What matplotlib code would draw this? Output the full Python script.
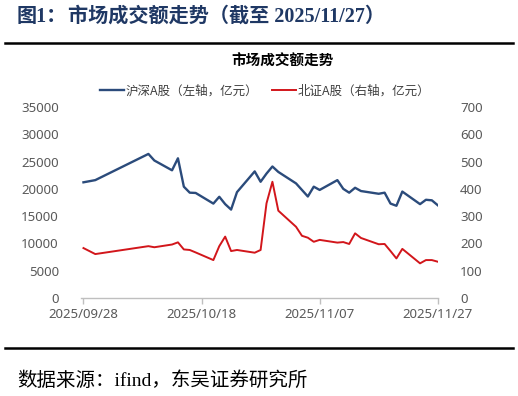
import matplotlib
matplotlib.use("Agg")
from matplotlib import pyplot as plt
import matplotlib.dates as mdates
import pandas as pd

# trading days shown in the chart
dates = ["2025-09-28", "2025-09-29", "2025-09-30", "2025-10-09", "2025-10-10",
         "2025-10-13", "2025-10-14", "2025-10-15", "2025-10-16", "2025-10-17",
         "2025-10-20", "2025-10-21", "2025-10-22", "2025-10-23", "2025-10-24",
         "2025-10-27", "2025-10-28", "2025-10-29", "2025-10-30", "2025-10-31",
         "2025-11-03", "2025-11-04", "2025-11-05", "2025-11-06", "2025-11-07",
         "2025-11-10", "2025-11-11", "2025-11-12", "2025-11-13", "2025-11-14",
         "2025-11-17", "2025-11-18", "2025-11-19", "2025-11-20", "2025-11-21",
         "2025-11-24", "2025-11-25", "2025-11-26", "2025-11-27"]

# 沪深A股 成交额（亿元，左轴）
hs_amount = [21200, 21400, 21600, 26400, 25200,
             23400, 25600, 20400, 19300, 19250,
             17300, 18550, 17200, 16200, 19400,
             23200, 21300, 22800, 24100, 23100,
             21000, 19800, 18600, 20400, 19800,
             21600, 20000, 19300, 20200, 19600,
             19100, 19300, 17300, 16900, 19500,
             17200, 18000, 17900, 17000]

# 北证A股 成交额（亿元，右轴）
bz_amount = [183, 172, 161, 190, 186,
             196, 204, 178, 176, 167,
             139, 190, 225, 172, 176,
             166, 176, 347, 426, 320,
             261, 228, 221, 206, 213,
             203, 205, 198, 237, 220,
             197, 198, 172, 145, 180,
             127, 139, 139, 133]

left_ticks = [0, 5000, 10000, 15000, 20000, 25000, 30000, 35000]
right_ticks = [0, 100, 200, 300, 400, 500, 600, 700]
x_ticks = ["2025-09-28", "2025-10-18", "2025-11-07", "2025-11-27"]

blue = "#2B4B7B"
red = "#D2161B"
grey_txt = "#595959"
navy = "#1F3864"

cjk = ["Noto Sans CJK SC", "DejaVu Sans"]
serif_cjk = ["Liberation Serif", "Noto Sans CJK SC"]
num_font = ["Noto Sans", "DejaVu Sans"]

d = pd.to_datetime(dates)

fig = plt.figure(figsize=(5.18, 3.96), dpi=100)
fig.patch.set_facecolor("white")

# header and footer
fig.text(17 / 518, 1 - 17 / 396, "图1：", family=serif_cjk, fontsize=14.5,
         fontweight="bold", color=navy, va="center", ha="left")
fig.text(68 / 518, 1 - 17 / 396, "市场成交额走势（截至 2025/11/27）", family=serif_cjk,
         fontsize=14.5, fontweight="bold", color=navy, va="center", ha="left")
fig.add_artist(plt.Line2D([5 / 518, 513 / 518], [1 - 43 / 396, 1 - 43 / 396],
                          color="black", lw=1.8, transform=fig.transFigure))
fig.add_artist(plt.Line2D([5 / 518, 513 / 518], [1 - 348 / 396, 1 - 348 / 396],
                          color="black", lw=1.8, transform=fig.transFigure))
fig.text(17 / 518, 1 - 381 / 396, "数据来源：ifind，东吴证券研究所", family=serif_cjk,
         fontsize=14, color="black", va="center", ha="left")

# chart title
fig.text(283 / 518, 1 - 61 / 396, "市场成交额走势", family=cjk, fontsize=10.5,
         fontweight="bold", color="black", va="center", ha="center")

ax = fig.add_axes([81 / 518, 1 - 298 / 396, (438 - 81) / 518, (298 - 107) / 396])
ax2 = ax.twinx()

l1, = ax.plot(d, hs_amount, color=blue, lw=1.7, solid_joinstyle="round",
              label="沪深A股（左轴，亿元）")
l2, = ax2.plot(d, bz_amount, color=red, lw=1.4, solid_joinstyle="round",
               label="北证A股（右轴，亿元）")

ax.set_ylim(0, 35000)
ax2.set_ylim(0, 700)
ax.set_yticks(left_ticks)
ax2.set_yticks(right_ticks)
ax.set_yticklabels([str(v) for v in left_ticks])
ax2.set_yticklabels([str(v) for v in right_ticks])

ax.set_xlim(pd.Timestamp("2025-09-27 14:00"), pd.Timestamp("2025-11-27 01:00"))
ax.set_xticks(pd.to_datetime(x_ticks))
ax.xaxis.set_major_formatter(mdates.DateFormatter("%Y/%m/%d"))

for a in (ax, ax2):
    for s in a.spines.values():
        s.set_visible(False)
ax.spines["bottom"].set_visible(True)
ax.spines["bottom"].set_color("#BFBFBF")
ax.spines["bottom"].set_linewidth(1.0)

ax.tick_params(axis="y", length=0, pad=16, labelsize=9.5, labelcolor=grey_txt)
ax2.tick_params(axis="y", length=0, pad=16, labelsize=9.5, labelcolor=grey_txt)
ax.tick_params(axis="x", length=4, width=1, color="#BFBFBF", pad=3,
               labelsize=9.5, labelcolor=grey_txt)
for lab in ax.get_xticklabels() + ax.get_yticklabels() + ax2.get_yticklabels():
    lab.set_family(num_font)

leg = fig.legend(handles=[l1, l2], loc="center", bbox_to_anchor=(265 / 518, 1 - 91 / 396),
                 ncol=2, frameon=False, prop={"family": cjk, "size": 9},
                 handlelength=1.9, handletextpad=0.15, columnspacing=1.1)
for t in leg.get_texts():
    t.set_color("#404040")

fig.savefig("out.png", dpi=100, facecolor="white")
